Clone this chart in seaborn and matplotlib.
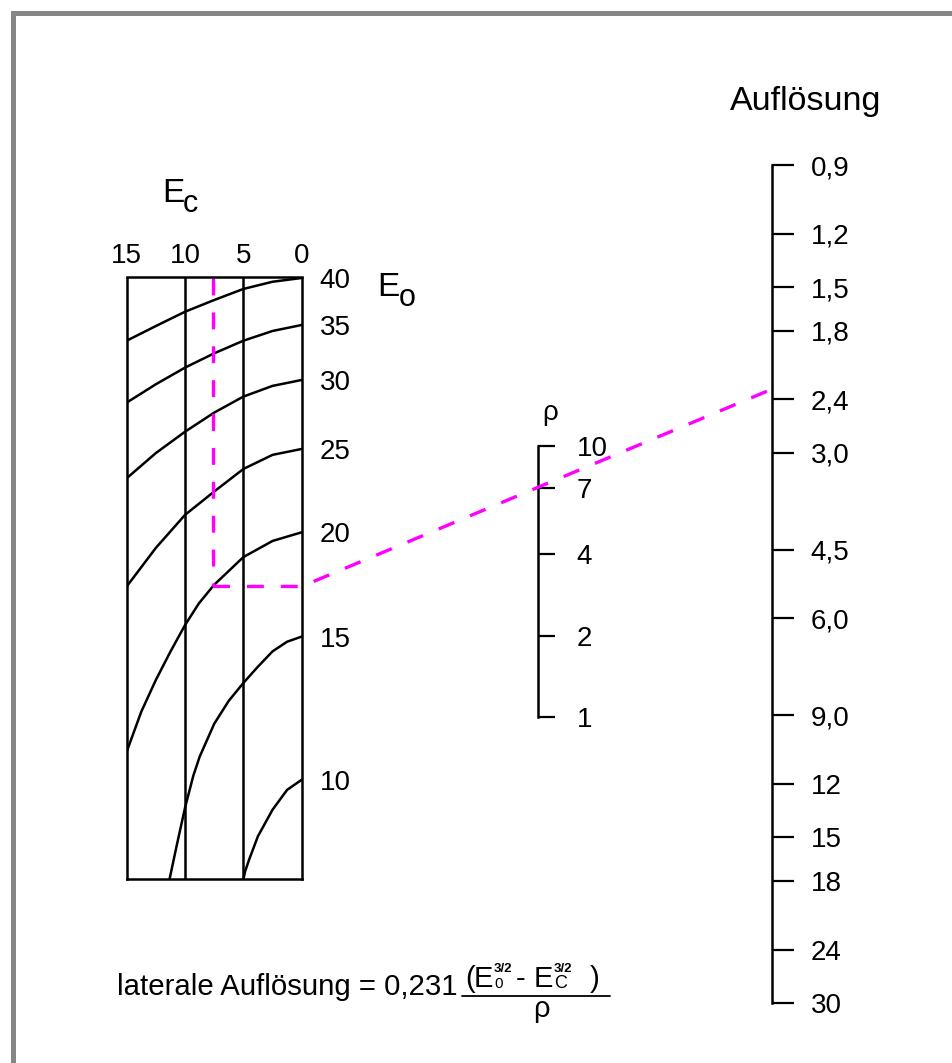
import numpy as np
import pandas as pd
import matplotlib
matplotlib.use("Agg")
import matplotlib.pyplot as plt
from matplotlib.lines import Line2D
from matplotlib.patches import Rectangle
from matplotlib.ticker import NullLocator, FixedLocator, FixedFormatter
import seaborn as sns

sns.set_theme(style="white")
plt.rcParams["font.family"] = ["Liberation Sans", "DejaVu Sans"]
plt.rcParams["lines.scale_dashes"] = False
for key in ("text.color", "axes.labelcolor", "xtick.color", "ytick.color"):
    plt.rcParams[key] = "black"

# ---- data -------------------------------------------------------------
# Ec axis (top of the left panel) and the grid verticals
ec_ticks = [15, 10, 5, 0]
ec_grid = [10, 5]

# curves of constant E0: value of (E0^3/2 - Ec^3/2) along Ec
e0_levels = [40, 35, 30, 25, 20, 15, 10]
ec_40 = [15, 12.5, 10, 7.5, 5, 2.5, 0]
d_40 = [194.8, 207.0, 219.6, 230.5, 241.3, 248.6, 252.5]
ec_35 = [15, 12.5, 10, 7.5, 5, 2.5, 0]
d_35 = [150.8, 162.7, 174.3, 184.9, 194.8, 202.8, 207.9]
ec_30 = [15, 12.5, 10, 7.5, 5, 2.5, 0]
d_30 = [110.3, 122.4, 133.7, 144.7, 154.6, 161.6, 165.6]
ec_25 = [15, 12.5, 10, 7.5, 5, 2.5, 0]
d_25 = [70.5, 82.7, 94.8, 104.4, 114.6, 121.5, 124.5]
ec_20 = [15, 13.75, 12.5, 11.26, 10, 8.81, 7.5, 5, 2.5, 0]
d_20 = [35.6, 42.0, 47.9, 53.8, 60.1, 65.75, 71.0, 79.6, 85.1, 88.2]
ec_15 = [11.33, 10.73, 10, 9.29, 8.75, 7.5, 6.25, 5, 3.75, 2.5, 1.25, 0]
d_15 = [21.0, 24.06, 28.23, 32.23, 34.85, 39.95, 43.94, 47.3, 50.6, 53.9, 56.1, 57.3]
ec_10 = [5, 4.85, 4.5, 3.75, 2.5, 1.25, 0]
d_10 = [21.0, 21.7, 22.8, 25.1, 28.0, 30.4, 31.7]
d_range = (21.0, 253.0)

# density scale (middle)
rho_ticks = [1, 2, 4, 7, 10]
rho_labels = ["1", "2", "4", "7", "10"]

# resolution scale (right)
res_ticks = [0.9, 1.2, 1.5, 1.8, 2.4, 3.0, 4.5, 6.0, 9.0, 12, 15, 18, 24, 30]
res_labels = ["0,9", "1,2", "1,5", "1,8", "2,4", "3,0", "4,5", "6,0",
              "9,0", "12", "15", "18", "24", "30"]

# worked example: E0 = 20, Ec ~ 7.6, rho = 7 -> resolution ~ 2.3
example_ec = 7.6
example_d = 70.5
example_res = 2.3

curves = pd.concat([
    pd.DataFrame({"Ec": ec, "D": d, "E0": e0})
    for e0, ec, d in zip(e0_levels,
                         [ec_40, ec_35, ec_30, ec_25, ec_20, ec_15, ec_10],
                         [d_40, d_35, d_30, d_25, d_20, d_15, d_10])
], ignore_index=True)

# ---- figure -----------------------------------------------------------
W, H = 952, 1063
fig = plt.figure(figsize=(W / 100, H / 100), dpi=100)
fig.patch.set_facecolor("white")


def px_box(x0, y0, x1, y1):
    return [x0 / W, 1 - y1 / H, (x1 - x0) / W, (y1 - y0) / H]


def ftext(x, y, s, size, **kw):
    kw.setdefault("va", "baseline")
    return fig.text(x / W, 1 - y / H, s, fontsize=size, color="black", **kw)


# outer grey frame
fig.add_artist(Rectangle((12.5 / W, -0.1), 1.2, 1.1 - 13 / H,
                         transform=fig.transFigure, fill=False,
                         edgecolor="#868686", linewidth=3.6))

LW = 1.8

# left panel: Ec / E0 chart
ax = fig.add_axes(px_box(126.7, 277.5, 301.7, 879.3))
ax.set_facecolor("none")
ax.set_yscale("log")
sns.lineplot(data=curves, x="Ec", y="D", units="E0", estimator=None,
             sort=False, color="black", linewidth=LW, ax=ax, legend=False)
for ec in ec_grid:
    ax.axvline(ec, color="black", linewidth=LW)
ax.set_xlim(15, 0)
ax.set_ylim(*d_range)
for sp in ax.spines.values():
    sp.set_visible(True)
    sp.set_color("black")
    sp.set_linewidth(LW)
ax.set_xlabel("")
ax.set_ylabel("")
ax.xaxis.tick_top()
ax.set_xticks(ec_ticks)
ax.set_xticklabels([str(v) for v in ec_ticks])
ax.tick_params(axis="x", length=0, pad=6, labelsize=20, labelcolor="black")
ends = [d[-1] for d in [d_40, d_35, d_30, d_25, d_20, d_15, d_10]]
ax.yaxis.tick_right()
ax.yaxis.set_minor_locator(NullLocator())
ax.yaxis.set_major_locator(FixedLocator(ends))
ax.yaxis.set_major_formatter(FixedFormatter([str(v) for v in e0_levels]))
ax.tick_params(axis="y", length=0, pad=13, labelsize=20, labelcolor="black")

# axis titles E_c and E_o
ftext(162, 202, "E", 24)
ftext(183, 212, "c", 22)
ftext(377, 296, "E", 24)
ftext(399, 306, "o", 22)


def side_scale(x_spine, y_top, y_bot, lim, ticks, labels, tick_len, pad):
    a = fig.add_axes(px_box(x_spine - 10, y_top, x_spine, y_bot))
    a.set_facecolor("none")
    a.set_yscale("log")
    a.set_ylim(*lim)
    a.set_xlim(0, 1)
    for name, sp in a.spines.items():
        sp.set_visible(name == "right")
    a.spines["right"].set_color("black")
    a.spines["right"].set_linewidth(LW)
    a.set_xticks([])
    a.yaxis.tick_right()
    a.yaxis.set_minor_locator(NullLocator())
    a.yaxis.set_major_locator(FixedLocator(ticks))
    a.yaxis.set_major_formatter(FixedFormatter(labels))
    a.tick_params(axis="y", direction="out", length=tick_len, width=1.6,
                  pad=pad, labelsize=20, color="black", labelcolor="black")
    a.grid(False)
    return a


ax_rho = side_scale(538, 445.7, 717.3, (1, 10), rho_ticks, rho_labels, 12.2, 15.5)
ax_res = side_scale(771.7, 165, 1003, (30, 0.9), res_ticks, res_labels, 15.5, 12.5)

ftext(550, 420, "ρ", 20, ha="center")
ftext(806, 110, "Auflösung", 24.5, ha="center")

# worked example: dashed magenta guide line
MAG = "#ff00ff"
dash = (0, (12.2, 12.2))
ax.plot([example_ec, example_ec], [d_range[1], example_d], color=MAG,
        linewidth=2.4, linestyle=dash, clip_on=False)
p0 = ax.transData.transform((example_ec, example_d))
p1 = ax.transData.transform((0, example_d))
p2 = ax_res.transData.transform((1, example_res))
pts = fig.transFigure.inverted().transform(np.vstack([p0, p1, p2]))
fig.add_artist(Line2D(pts[:, 0], pts[:, 1], transform=fig.transFigure,
                      color=MAG, linewidth=2.4, linestyle=dash))

# formula
ftext(117, 995, "laterale Auflösung = 0,231", 21.2)
ftext(465, 987, "(", 21)
ftext(474, 987, "E", 21)
ftext(494, 972, "3/2", 9.5, fontweight="bold")
ftext(494, 988, "0", 11)
ftext(516, 987, "-", 21)
ftext(534, 987, "E", 21)
ftext(554, 972, "3/2", 9.5, fontweight="bold")
ftext(554, 988, "C", 13)
ftext(590, 987, ")", 21)
fig.add_artist(Line2D([462 / W, 610 / W], [1 - 996 / H] * 2,
                      transform=fig.transFigure, color="black", linewidth=1.3))
ftext(541, 1017, "ρ", 21, ha="center")

fig.savefig("out.png", dpi=100, facecolor="white")
